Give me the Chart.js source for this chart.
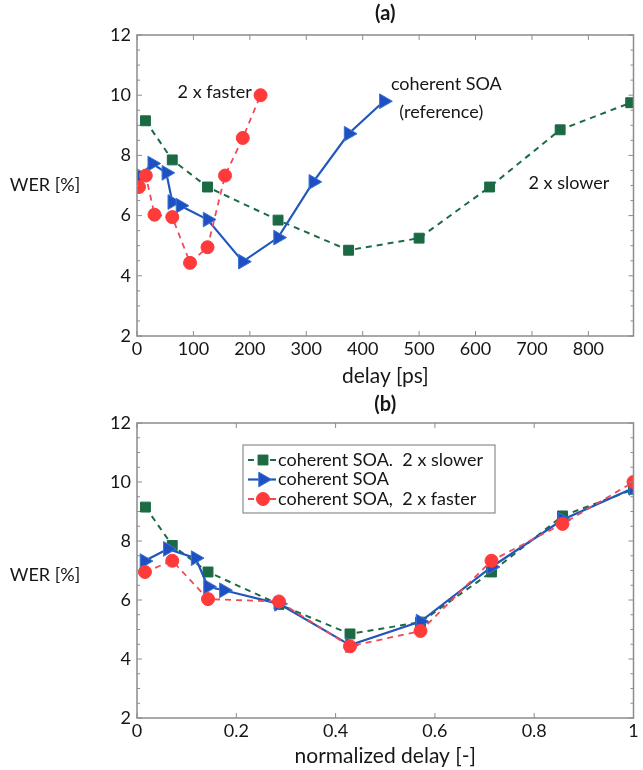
<!DOCTYPE html>
<html>
<head>
<meta charset="utf-8">
<script src="https://cdn.jsdelivr.net/npm/chart.js@4"></script>
<style>
  html, body { margin: 0; padding: 0; background: #ffffff; }
  .wrap { position: absolute; left: 0; width: 643px; }
</style>
</head>
<body>
<div class="wrap" style="top:0;height:390px;"><canvas id="chartA" width="643" height="390"></canvas></div>
<div class="wrap" style="top:390px;height:380px;"><canvas id="chartB" width="643" height="380"></canvas></div>
<script>
// ---------------- data ----------------
const seriesNames = ['coherent SOA.  2 x slower', 'coherent SOA', 'coherent SOA,  2 x faster'];

// panel (a): delay [ps]
const slowerDelay = [15, 62.5, 125, 250, 375, 500, 625, 750, 875];
const slowerWER   = [9.15, 7.85, 6.95, 5.85, 4.85, 5.25, 6.95, 8.85, 9.75];

const refDelay = [6.5, 27, 52, 62.5, 77, 125, 187.5, 250, 312.5, 375, 437.5];
const refWER   = [7.32, 7.73, 7.42, 6.45, 6.33, 5.87, 4.47, 5.27, 7.12, 8.72, 9.8];

const fasterDelay = [3.5, 15.6, 31, 62.5, 94, 125, 156, 187.5, 219];
const fasterWER   = [6.95, 7.33, 6.03, 5.95, 4.43, 4.95, 7.33, 8.58, 10.0];

// panel (b): normalized delay [-]
const slowerNorm = [0.017, 0.071, 0.143, 0.286, 0.429, 0.571, 0.714, 0.857, 1.0];
const refNorm    = [0.015, 0.062, 0.118, 0.143, 0.175, 0.286, 0.429, 0.571, 0.714, 0.857, 1.0];
const fasterNorm = [0.016, 0.071, 0.143, 0.286, 0.429, 0.571, 0.714, 0.857, 1.0];

const yTicks = [2, 4, 6, 8, 10, 12];
const xTicksA = [0, 100, 200, 300, 400, 500, 600, 700, 800];
const xTicksB = [0, 0.2, 0.4, 0.6, 0.8, 1];

// annotations of panel (a): [text, delay, WER]
const notesA = [
  ['2 x faster', 72, 10.1],
  ['coherent SOA', 450, 10.35],
  ['(reference)', 465, 9.45],
  ['2 x slower', 694, 7.08]
];

// ---------------- styling ----------------
const FONT = 'Lato, "Open Sans", "DejaVu Sans", sans-serif';
const TXT = '#161616';
const GREEN = '#1c6a44', BLUE = '#1f50c2', RED = '#ff3a3a';
const GREEN_LINE = '#1d6b45', BLUE_LINE = '#2157bb', RED_LINE = '#ef4b57';

function pts(xs, ys) { return xs.map((x, i) => ({ x: x, y: ys[i] })); }

function makeDatasets(sx, rx, fx) {
  return [
    { label: seriesNames[2], data: pts(fx, fasterWER), order: 0,
      borderColor: RED_LINE, borderWidth: 1.8, borderDash: [6, 5],
      pointStyle: 'circle', pointRadius: 6.5, pointBackgroundColor: RED, pointBorderColor: RED, pointBorderWidth: 1 },
    { label: seriesNames[1], data: pts(rx, refWER), order: 1,
      borderColor: BLUE_LINE, borderWidth: 2.2,
      pointStyle: 'triangle', rotation: 90, pointRadius: 8.5, pointBackgroundColor: BLUE, pointBorderColor: '#3b74d6', pointBorderWidth: 1 },
    { label: seriesNames[0], data: pts(sx, slowerWER), order: 2,
      borderColor: GREEN_LINE, borderWidth: 2, borderDash: [6, 5],
      pointStyle: 'rect', pointRadius: 7, pointBackgroundColor: GREEN, pointBorderColor: GREEN, pointBorderWidth: 1 }
  ];
}

// box, inward ticks, titles, labels
function framePlugin(opts) {
  return {
    id: 'frame_' + opts.title,
    afterDraw(chart) {
      const ctx = chart.ctx, a = chart.chartArea;
      const xs = chart.scales.x, ys = chart.scales.y;
      ctx.save();
      ctx.strokeStyle = '#8c8c8c';
      ctx.lineWidth = 1.5;
      ctx.strokeRect(a.left, a.top, a.right - a.left, a.bottom - a.top);
      ctx.lineWidth = 1;
      opts.xTicks.forEach(v => {
        const px = xs.getPixelForValue(v);
        ctx.beginPath();
        ctx.moveTo(px, a.bottom); ctx.lineTo(px, a.bottom - 5);
        ctx.moveTo(px, a.top); ctx.lineTo(px, a.top + 5);
        ctx.stroke();
      });
      for (let v = ys.min; v <= ys.max + 1e-9; v += 0.5) {
        const py = ys.getPixelForValue(v);
        const len = (Math.abs(v % 2) < 1e-9) ? 5 : 3;
        ctx.beginPath();
        ctx.moveTo(a.left, py); ctx.lineTo(a.left + len, py);
        ctx.moveTo(a.right, py); ctx.lineTo(a.right - len, py);
        ctx.stroke();
      }
      ctx.fillStyle = TXT;
      ctx.font = 'bold 20px ' + FONT;
      ctx.textAlign = 'center';
      ctx.textBaseline = 'middle';
      ctx.fillText(opts.title, (a.left + a.right) / 2, opts.titleY);
      ctx.font = '18px ' + FONT;
      ctx.fillStyle = TXT;
      ctx.fillText('WER [%]', 45, (a.top + a.bottom) / 2 + opts.ylabOff);
      ctx.restore();
      if (opts.extra) opts.extra(chart);
    }
  };
}

function baseOptions(xmin, xmax, xstep, xTitle, padTop, xHeight, tickCb) {
  return {
    responsive: false,
    animation: false,
    layout: { padding: { top: padTop, right: 5, left: 0, bottom: 0 } },
    plugins: { legend: { display: false }, title: { display: false }, tooltip: { enabled: false } },
    scales: {
      x: {
        type: 'linear', min: xmin, max: xmax,
        grid: { display: false, drawTicks: false },
        border: { display: false },
        ticks: { stepSize: xstep, includeBounds: false, padding: 2, color: TXT,
                 font: { family: FONT, size: 18 }, maxRotation: 0, autoSkip: false, callback: tickCb },
        title: { display: true, text: xTitle, color: TXT, font: { family: FONT, size: 21 },
                 padding: { top: 0, bottom: 1 } },
        afterFit(s) { s.height = xHeight; }
      },
      y: {
        type: 'linear', min: 2, max: 12,
        grid: { display: false, drawTicks: false },
        border: { display: false },
        ticks: { stepSize: 2, padding: 6, color: TXT, font: { family: FONT, size: 18 } },
        afterFit(s) { s.width = 137; }
      }
    }
  };
}

// ---------------- chart (a) ----------------
new Chart(document.getElementById('chartA'), {
  type: 'line',
  data: { datasets: makeDatasets(slowerDelay, refDelay, fasterDelay) },
  options: baseOptions(0, 880, 100, 'delay [ps]', 35, 54, v => (xTicksA.includes(v) ? String(v) : '')),
  plugins: [framePlugin({
    title: '(a)', titleY: 14, xTicks: xTicksA, ylabOff: 0,
    extra(chart) {
      const ctx = chart.ctx, xs = chart.scales.x, ys = chart.scales.y;
      ctx.save();
      ctx.font = '18px ' + FONT;
      ctx.fillStyle = TXT;
      ctx.textAlign = 'left';
      ctx.textBaseline = 'middle';
      notesA.forEach(n => ctx.fillText(n[0], xs.getPixelForValue(n[1]), ys.getPixelForValue(n[2])));
      ctx.restore();
    }
  })]
});

// ---------------- chart (b) ----------------
new Chart(document.getElementById('chartB'), {
  type: 'line',
  data: { datasets: makeDatasets(slowerNorm, refNorm, fasterNorm) },
  options: baseOptions(0, 1, 0.2, 'normalized delay [-]', 33, 52, v => {
    const r = Math.round(v * 10) / 10;
    return xTicksB.includes(r) ? String(r) : '';
  }),
  plugins: [framePlugin({
    title: '(b)', titleY: 15, xTicks: xTicksB, ylabOff: 5,
    extra(chart) {
      const ctx = chart.ctx;
      const bx = 243, by = 55, bw = 252, bh = 68;
      ctx.save();
      ctx.fillStyle = '#fff';
      ctx.fillRect(bx, by, bw, bh);
      ctx.strokeStyle = '#8c8c8c';
      ctx.lineWidth = 1.2;
      ctx.strokeRect(bx, by, bw, bh);
      const ds = chart.data.datasets;
      const rows = [2, 1, 0];
      rows.forEach((di, i) => {
        const d = ds[di];
        const cy = by + 15 + i * 19.5;
        ctx.save();
        ctx.strokeStyle = d.borderColor;
        ctx.lineWidth = d.borderWidth;
        ctx.setLineDash(d.borderDash || []);
        ctx.beginPath();
        ctx.moveTo(bx + 5, cy); ctx.lineTo(bx + 33, cy);
        ctx.stroke();
        ctx.restore();
        ctx.save();
        ctx.fillStyle = d.pointBackgroundColor;
        ctx.strokeStyle = d.pointBorderColor;
        ctx.lineWidth = d.pointBorderWidth;
        ctx.setLineDash([]);
        Chart.helpers.drawPoint(ctx, {
          pointStyle: d.pointStyle, radius: d.pointRadius, rotation: d.rotation || 0,
          borderWidth: d.pointBorderWidth
        }, bx + 20, cy);
        ctx.restore();
        ctx.font = '18px ' + FONT;
        ctx.fillStyle = TXT;
        ctx.textAlign = 'left';
        ctx.textBaseline = 'middle';
        ctx.fillText(d.label, bx + 35, cy);
      });
      ctx.restore();
    }
  })]
});
</script>
</body>
</html>
